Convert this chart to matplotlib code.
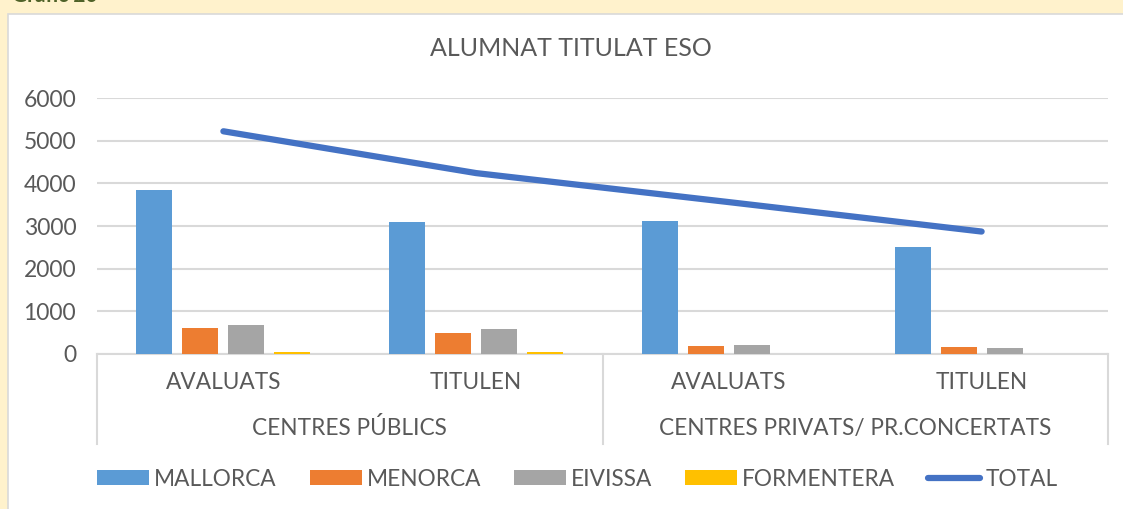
import matplotlib.pyplot as plt
import matplotlib.transforms as mtransforms
from matplotlib.patches import Rectangle
import numpy as np

plt.rcParams['font.family'] = ['Lato', 'DejaVu Sans']

categories = ["AVALUATS", "TITULEN", "AVALUATS", "TITULEN"]
groups = ["CENTRES PÚBLICS", "CENTRES PRIVATS/ PR.CONCERTATS"]
series_names = ["MALLORCA", "MENORCA", "EIVISSA", "FORMENTERA"]
mallorca = [3840, 3090, 3115, 2510]
menorca = [610, 490, 195, 165]
eivissa = [680, 585, 205, 140]
formentera = [50, 40, 0, 0]
total = [5220, 4240, 3560, 2870]

colors = ["#5B9BD5", "#ED7D31", "#A5A5A5", "#FFC000"]
line_color = "#4472C4"
text_color = "#595959"
grid_color = "#D9D9D9"

fig = plt.figure(figsize=(11.23, 5.09), dpi=100)
fig.patch.set_facecolor("#FFF2CC")

# white chart area with thin grey border
fig.patches.append(Rectangle((8 / 1123, -0.01), 1.0, 1 - 14 / 509 + 0.01,
                             transform=fig.transFigure, facecolor="white",
                             edgecolor=grid_color, linewidth=1.2, zorder=-5))
fig.text(12 / 1123, 1 + 4 / 509, "Gràfic 20", color="#4F6228", fontsize=15,
         fontweight="bold", va="center", ha="left")

ax = fig.add_axes([97 / 1123, 1 - 354 / 509, (1108 - 97) / 1123, (354 - 98) / 509])
ax.set_facecolor("none")

x = np.arange(len(categories))
width = 0.1425
step = 0.182
all_series = [mallorca, menorca, eivissa, formentera]
handles = []
for i, vals in enumerate(all_series):
    b = ax.bar(x + (i - 1.5) * step, vals, width, color=colors[i],
               label=series_names[i], zorder=3)
    handles.append(b)
ln, = ax.plot(x, total, color=line_color, linewidth=4.5,
              solid_capstyle="round", label="TOTAL", zorder=4)
handles.append(ln)

ax.set_xlim(-0.5, 3.5)
ax.set_ylim(0, 6000)
ax.set_yticks(range(0, 6001, 1000))
ax.yaxis.grid(True, color=grid_color, linewidth=1.5)
ax.set_axisbelow(True)
for s in ["top", "right", "left"]:
    ax.spines[s].set_visible(False)
ax.spines["bottom"].set_color(grid_color)
ax.spines["bottom"].set_linewidth(1.5)
ax.tick_params(axis="y", length=0, pad=15, labelsize=16.5, labelcolor=text_color)
ax.tick_params(axis="x", length=0, pad=13, labelsize=16.3, labelcolor=text_color)
ax.set_xticks(x)
ax.set_xticklabels(categories)

trans = mtransforms.blended_transform_factory(ax.transData, ax.transAxes)
px = 1 / 256
for xv in [-0.5, 1.5, 3.5]:
    ax.plot([xv, xv], [0, -90 * px], color=grid_color, linewidth=1.5,
            transform=trans, clip_on=False)
ax.text(0.5, -74 * px, groups[0], transform=trans, ha="center", va="center",
        fontsize=16.3, color=text_color)
ax.text(2.5, -74 * px, groups[1], transform=trans, ha="center", va="center",
        fontsize=16.3, color=text_color)

ax.set_title("ALUMNAT TITULAT ESO", fontsize=18, color=text_color, pad=30,
             x=(571 - 97) / 1011)

fig.legend(handles=handles, labels=series_names + ["TOTAL"], loc="center",
           bbox_to_anchor=(0.514, 1 - 479 / 509), ncol=5, frameon=False,
           fontsize=16.3, labelcolor=text_color, handlelength=2.3,
           handleheight=0.66, handletextpad=0.22, columnspacing=1.45)

fig.savefig("out.png", dpi=100, facecolor=fig.get_facecolor())
